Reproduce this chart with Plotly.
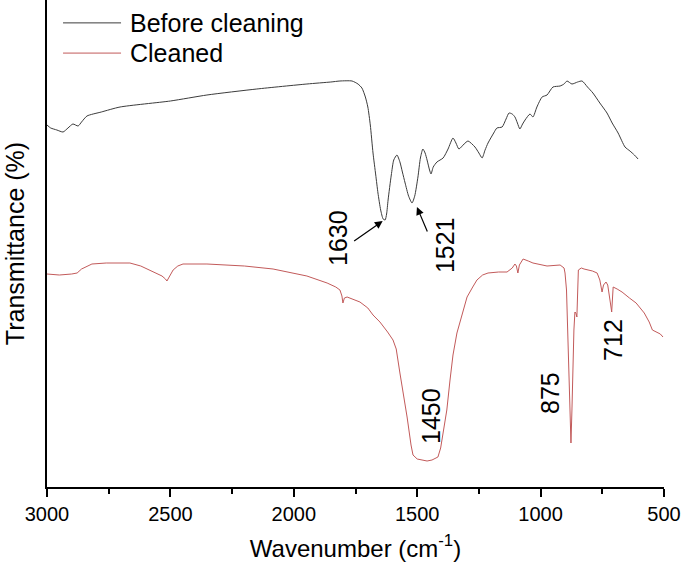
import plotly.graph_objects as go

# ---- data (transmittance in arbitrary units) ----
before_wn = [3000, 2985, 2960, 2935, 2915, 2895, 2874, 2860, 2838, 2780, 2704, 2500, 2352, 2150,
             1947, 1850, 1813, 1764, 1740, 1724, 1710, 1700, 1690, 1679, 1668, 1659, 1648, 1638,
             1630, 1624, 1618, 1605, 1595, 1582, 1570, 1560, 1549, 1535, 1521, 1510, 1497, 1487,
             1477, 1468, 1460, 1450, 1444, 1435, 1420, 1395, 1375, 1355, 1343, 1331, 1310, 1294,
             1266, 1250, 1237, 1225, 1213, 1190, 1177, 1156, 1140, 1128, 1115, 1104, 1094, 1084,
             1073, 1063, 1043, 1031, 1015, 994, 974, 950, 921, 905, 893, 873, 850, 832, 810, 788,
             760, 731, 710, 686, 658, 638, 620, 605]
before_t = [362, 359, 357, 355, 359, 363, 361, 365, 371, 375, 380, 386, 392, 398,
            403, 405, 406, 406, 403, 399, 390, 380, 362, 334, 312, 294, 277, 268,
            267, 273, 287, 312, 327, 332, 325, 315, 304, 291, 284, 291, 310, 329,
            338, 334, 327, 317, 313, 320, 325, 329, 338, 349, 344, 338, 343, 346,
            340, 334, 329, 337, 344, 354, 359, 360, 368, 374, 373, 370, 364, 358,
            363, 367, 373, 370, 380, 390, 392, 400, 401, 403, 406, 403, 405, 406, 400, 394,
            384, 374, 364, 354, 340, 336, 332, 328]

cleaned_wn = [3000, 2950, 2900, 2878, 2860, 2840, 2818, 2760, 2704, 2664, 2620, 2570, 2534, 2520,
              2514, 2505, 2489, 2470, 2449, 2352, 2200, 2084, 1947, 1865, 1830, 1813, 1805, 1801,
              1795, 1784, 1760, 1732, 1700, 1679, 1651, 1638, 1620, 1598, 1585, 1570, 1555, 1541,
              1525, 1517, 1500, 1480, 1460, 1440, 1416, 1405, 1395, 1380, 1367, 1355, 1339, 1320,
              1298, 1275, 1258, 1235, 1213, 1170, 1136, 1115, 1104, 1098, 1092, 1086, 1071, 1050,
              1031, 974, 921, 905, 901, 895, 889, 883, 877, 873, 869, 865, 861, 857, 853, 850,
              847, 835, 824, 790, 771, 760, 751, 745, 735, 728, 722, 716, 712, 709, 706, 690,
              670, 640, 613, 580, 560, 547, 530, 515, 504]
cleaned_t = [213, 212, 213, 214, 218, 220, 223, 224, 224, 224, 221, 215, 211, 208,
             206, 210, 217, 221, 223, 223, 221, 218, 211, 204, 200, 197, 191, 184,
             189, 190, 188, 185, 179, 172, 165, 161, 155, 147, 138, 114, 92, 70,
             42, 32, 28, 27, 26, 27, 30, 39, 54, 77, 107, 132, 154, 172,
             190, 200, 207, 212, 214, 215, 215, 219, 223, 221, 214, 222, 228, 226,
             224, 221, 222, 219, 214, 197, 147, 87, 44, 77, 130, 157, 175, 174, 170, 197,
             217, 219, 218, 216, 214, 207, 195, 202, 205, 202, 194, 182, 175, 187, 200, 198,
             195, 189, 184, 174, 165, 157, 155, 153, 150]

series_names = ["Before cleaning", "Cleaned"]
series_colors = ["#3c3c3c", "#c25a5a"]

x_tickvals = [3000, 2500, 2000, 1500, 1000, 500]
x_ticktext = ["3000", "2500", "2000", "1500", "1000", "500"]

peak_labels = ["1630", "1521", "1450", "875", "712"]
peak_label_wn = [1821, 1387, 1444, 962, 707]
peak_label_t = [249, 242, 71, 94, 147]

arrow_wn = [1640, 1501]
arrow_t = [266, 280]
arrow_dx = [-30, 11]
arrow_dy = [21, 26]

FONT = "Arial, 'Liberation Sans', sans-serif"

fig = go.Figure()
fig.add_trace(go.Scatter(x=before_wn, y=before_t, mode="lines", name=series_names[0],
                         line=dict(color=series_colors[0], width=1, shape="spline", smoothing=0.6),
                         showlegend=False))
fig.add_trace(go.Scatter(x=cleaned_wn, y=cleaned_t, mode="lines", name=series_names[1],
                         line=dict(color=series_colors[1], width=1),
                         showlegend=False))

annotations = []
for txt, xw, yt in zip(peak_labels, peak_label_wn, peak_label_t):
    annotations.append(dict(x=xw, y=yt, xref="x", yref="y", text=txt, textangle=-90,
                            showarrow=False, font=dict(family=FONT, size=25, color="black")))
for xw, yt, dx, dy in zip(arrow_wn, arrow_t, arrow_dx, arrow_dy):
    annotations.append(dict(x=xw, y=yt, xref="x", yref="y", text="", showarrow=True,
                            ax=dx, ay=dy, arrowhead=2, arrowsize=1.3, arrowwidth=1.2,
                            arrowcolor="black"))

# custom legend (line samples + labels)
legend_y = [0.953, 0.891]
shapes = []
for name, col, ly in zip(series_names, series_colors, legend_y):
    shapes.append(dict(type="line", xref="paper", yref="paper", x0=0.026, x1=0.12, y0=ly, y1=ly,
                       line=dict(color=col, width=1)))
    annotations.append(dict(x=0.131, y=ly, xref="paper", yref="paper", text=name,
                            xanchor="left", yanchor="middle", showarrow=False,
                            font=dict(family=FONT, size=25, color="black")))

fig.update_layout(
    width=685, height=574,
    margin=dict(l=47, r=21, t=0, b=87),
    plot_bgcolor="white", paper_bgcolor="white",
    font=dict(family=FONT, color="black"),
    annotations=annotations, shapes=shapes,
    showlegend=False,
)
fig.update_xaxes(
    range=[3000, 500], showline=True, linecolor="black", linewidth=1.5,
    ticks="outside", ticklen=8, tickwidth=1.5, tickcolor="black",
    tickvals=x_tickvals, ticktext=x_ticktext, tickfont=dict(size=20, family=FONT),
    minor=dict(ticks="outside", ticklen=5, tickwidth=1.5, tickcolor="black",
               tickmode="linear", tick0=250, dtick=500),
    showgrid=False, zeroline=False,
    title=dict(text="Wavenumber (cm<sup>-1</sup>)", font=dict(size=24, family=FONT), standoff=16),
)
fig.update_yaxes(
    range=[0, 487], showline=True, linecolor="black", linewidth=1.5,
    showticklabels=False, ticks="", showgrid=False, zeroline=False,
    title=dict(text="Transmittance (%)", font=dict(size=25, family=FONT), standoff=14),
)

fig.write_html("out.html", config={"displayModeBar": False},
               post_script="document.body.style.margin='0px';document.body.style.overflow='hidden';")
